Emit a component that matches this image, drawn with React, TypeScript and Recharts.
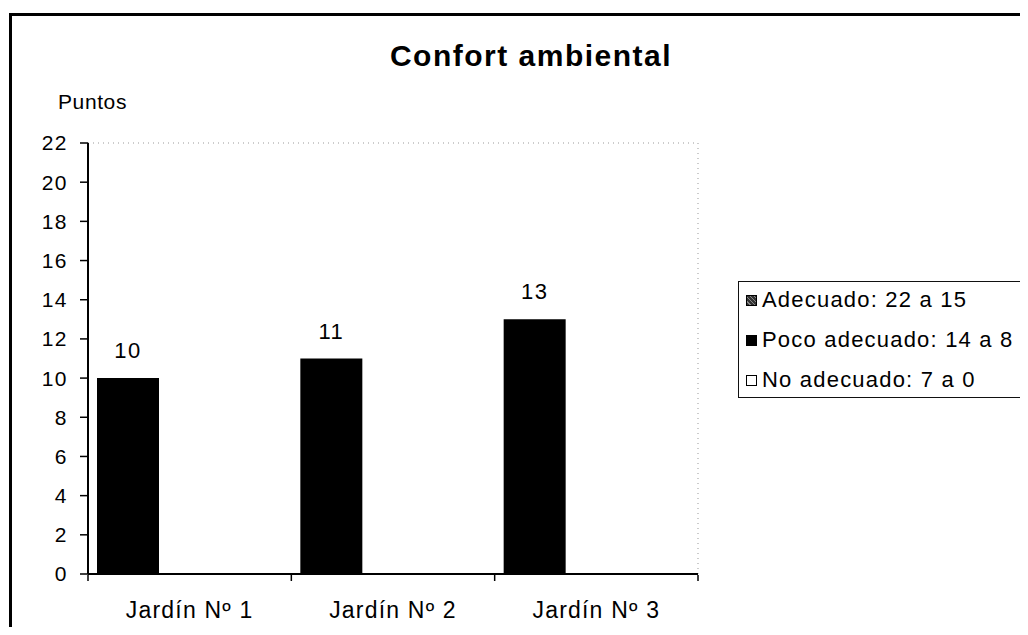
import { Bar, BarChart, LabelList, ReferenceLine, XAxis, YAxis } from "recharts";

const jardines = ["Jardín Nº 1", "Jardín Nº 2", "Jardín Nº 3"];
const pocoAdecuado = [10, 11, 13];
const adecuado = [0, 0, 0];
const noAdecuado = [0, 0, 0];
const yTicks = [0, 2, 4, 6, 8, 10, 12, 14, 16, 18, 20, 22];
const edgeTicks = [0, 1, 2, 3];

const legendItems = [
    { name: "Adecuado: 22 a 15", kind: "pattern" },
    { name: "Poco adecuado: 14 a 8", kind: "solid" },
    { name: "No adecuado: 7 a 0", kind: "empty" },
];

const font = "Arial, 'Liberation Sans', sans-serif";

const data = jardines.map((name, i) => ({
    name,
    pos: i + 0.5,
    poco: pocoAdecuado[i],
    adecuado: adecuado[i],
    no: noAdecuado[i],
}));

// the category boundary axis only needs its tick lines, no labels
const NoLabel = () => <g />;

function LegendBox() {
    return <div style={{
        position: "absolute", left: 730, top: 273, width: 340, height: 117,
        border: "1.5px solid #111", boxSizing: "border-box", fontFamily: font, fontSize: 22, letterSpacing: 1.2,
    }}>
        {legendItems.map((item, i) => (
            <div key={item.name} style={{ position: "absolute", left: 7, top: 5 + i * 40, height: 26, display: "flex", alignItems: "center", whiteSpace: "nowrap" }}>
                <span style={{
                    display: "inline-block", width: 11, height: 11, marginRight: 5, boxSizing: "border-box",
                    border: "1px solid #000",
                    background: item.kind === "solid" ? "#000" : item.kind === "pattern" ? "repeating-linear-gradient(45deg,#333 0 2px,#888 2px 3px)" : "#fff",
                }} />
                <span>{item.name}</span>
            </div>
        ))}
    </div>;
}

function App() {
    return <div style={{ position: "relative", width: 1020, height: 619, overflow: "hidden", background: "#fff", fontFamily: font }}>
        {/* outer frame, only top and left edges fall inside the picture */}
        <div style={{ position: "absolute", left: 1, top: 5, width: 1100, height: 700, borderTop: "3px solid #000", borderLeft: "3px solid #000" }} />

        <div style={{ position: "absolute", left: 0, width: 1046, top: 31, textAlign: "center", fontWeight: "bold", fontSize: 30, letterSpacing: 1.5 }}>
            Confort ambiental
        </div>
        <div style={{ position: "absolute", left: 50, top: 82, fontSize: 21, letterSpacing: 0.6 }}>Puntos</div>

        <BarChart width={1020} height={619} data={data}
            margin={{ top: 135, right: 330, bottom: 51, left: 0 }}
            barCategoryGap={9} barGap={0}
            style={{ position: "absolute", left: 0, top: 0 }}>
            {/* category axis kept 1px high so the boundary ticks sit right under it */}
            <XAxis dataKey="name" tickLine={false} tickSize={0} tickMargin={28} height={1}
                axisLine={{ stroke: "#000", strokeWidth: 2 }}
                tick={{ fill: "#000", fontSize: 23, fontFamily: font, letterSpacing: 1.2 }} />
            <XAxis xAxisId="edges" type="number" dataKey="pos" domain={[0, 3]} ticks={edgeTicks} interval={0}
                tick={NoLabel} tickSize={6} tickLine={{ stroke: "#000", strokeWidth: 1.5 }} axisLine={false} height={1} />
            <YAxis domain={[0, 22]} ticks={yTicks} interval={0} width={80}
                tickSize={8} tickMargin={12}
                tickLine={{ stroke: "#000", strokeWidth: 1.5 }}
                axisLine={{ stroke: "#000", strokeWidth: 2 }}
                tick={{ fill: "#000", fontSize: 21, fontFamily: font, letterSpacing: 1.5 }} />
            <ReferenceLine y={22} stroke="#999" strokeDasharray="1 4" />
            <ReferenceLine xAxisId="edges" x={3} stroke="#999" strokeDasharray="1 4" />
            <Bar dataKey="poco" fill="#000" isAnimationActive={false}>
                <LabelList dataKey="poco" position="top" offset={20} fill="#000" fontSize={22} fontFamily={font} style={{ letterSpacing: 1.5 }} />
            </Bar>
            <Bar dataKey="adecuado" fill="#555" isAnimationActive={false} />
            <Bar dataKey="no" fill="#fff" isAnimationActive={false} />
        </BarChart>

        <LegendBox />
    </div>;
}

export default App;
